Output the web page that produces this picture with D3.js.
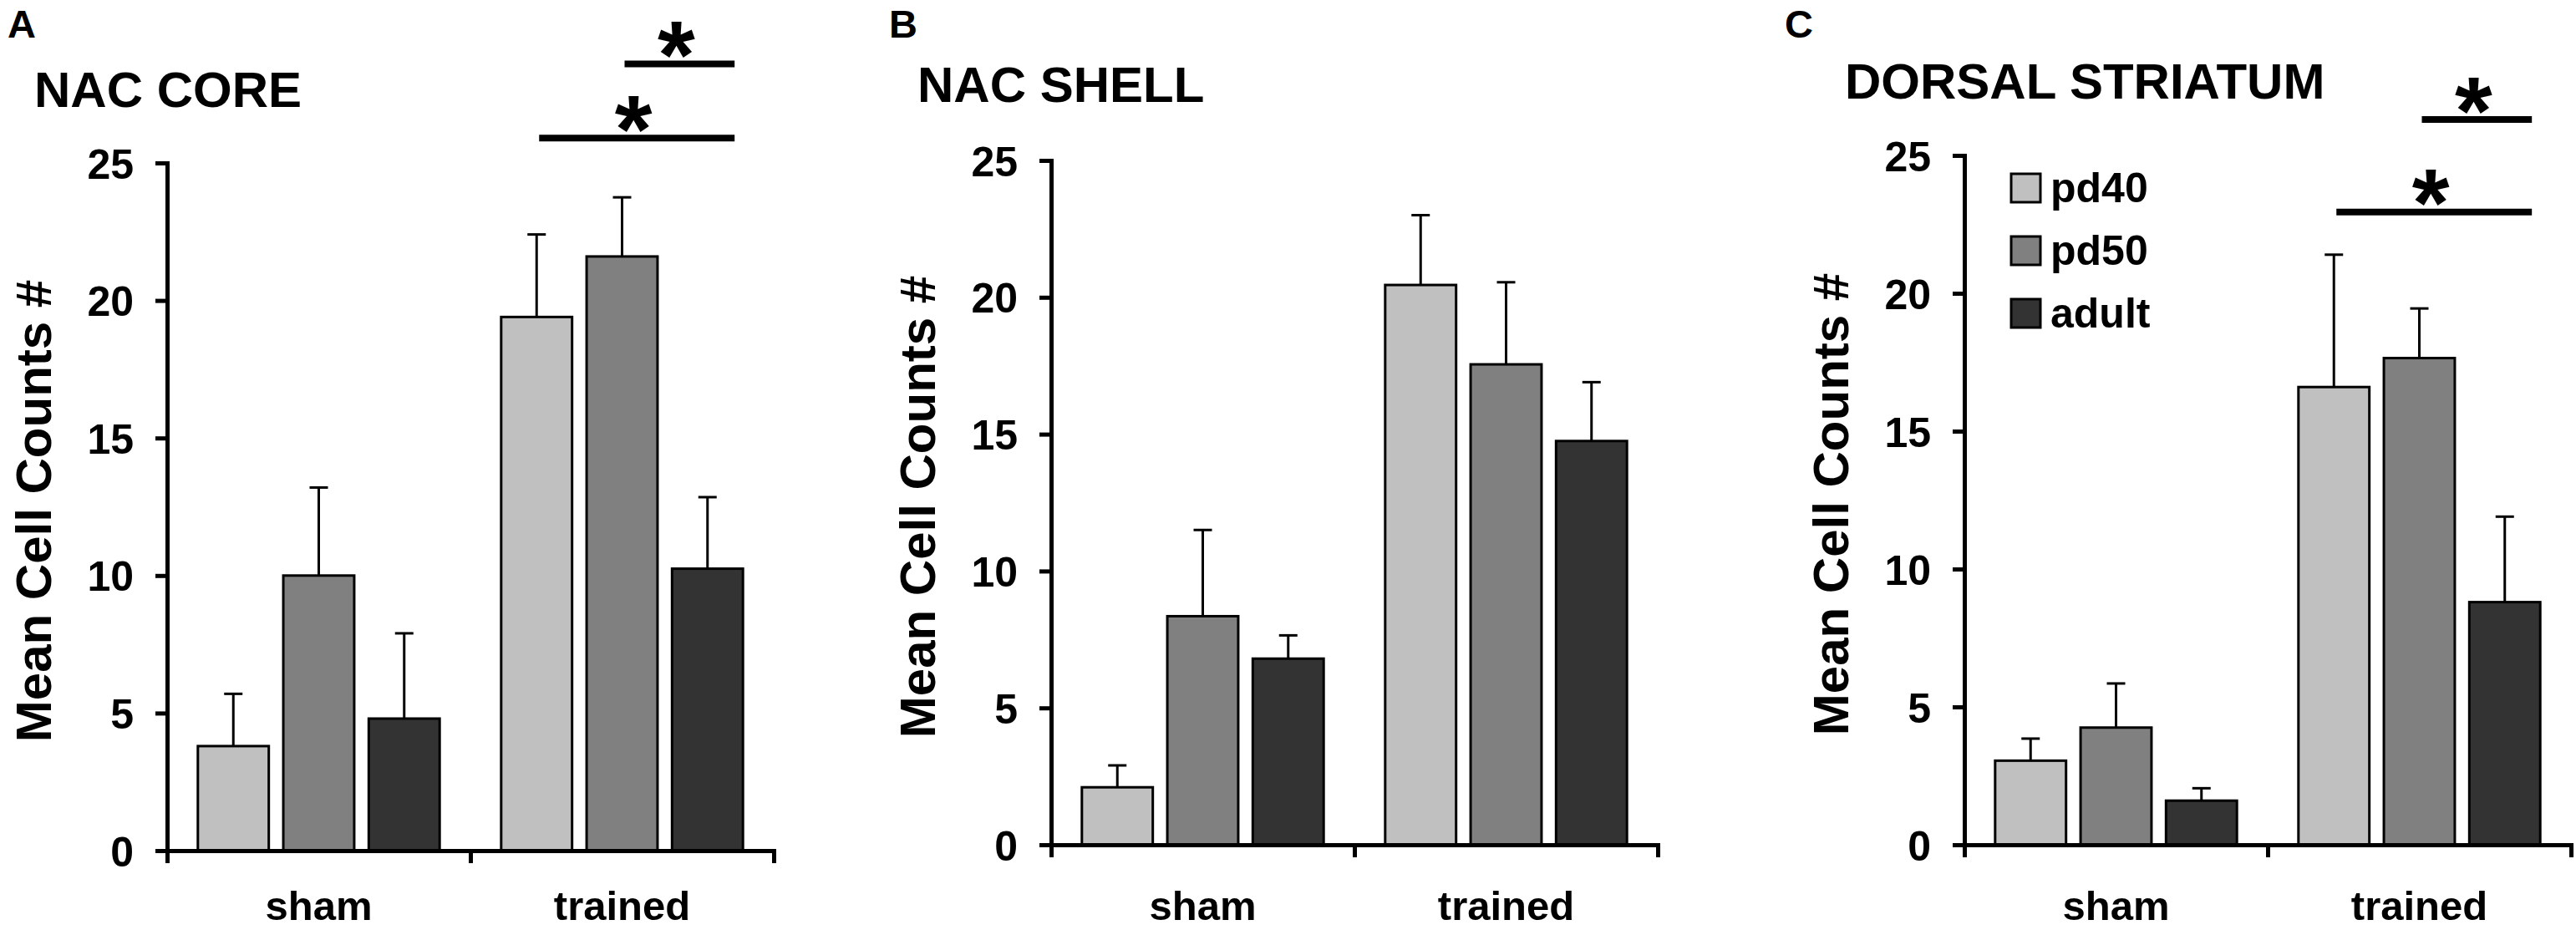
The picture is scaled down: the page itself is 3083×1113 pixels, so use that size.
<!DOCTYPE html>
<html>
<head>
<meta charset="utf-8">
<script src="https://cdn.jsdelivr.net/npm/d3@7"></script>
<style>
  body { margin: 0; background: #fff; }
  svg { display: block; font-family: "Liberation Sans", Arial, sans-serif; font-weight: bold; }
</style>
</head>
<body>
<div id="chart"></div>
<script>
// categories
const groups = ['sham', 'trained'];
const ages = ['pd40', 'pd50', 'adult'];
const yTicks = [0, 5, 10, 15, 20, 25];

// mean cell counts, order: sham pd40, pd50, adult, trained pd40, pd50, adult
const coreMean = [3.8, 10.0, 4.8, 19.4, 21.6, 10.25];
const coreSem = [1.9, 3.2, 3.1, 3.0, 2.15, 2.6];
const shellMean = [2.1, 8.35, 6.8, 20.45, 17.55, 14.75];
const shellSem = [0.8, 3.15, 0.85, 2.55, 3.0, 2.15];
const dorsalMean = [3.05, 4.25, 1.6, 16.6, 17.65, 8.8];
const dorsalSem = [0.8, 1.6, 0.45, 4.8, 1.8, 3.1];

// significance brackets (level in count units)
const coreSig = [
  { group: 'trained', from: 'pd40', to: 'adult', level: 25.9 },
  { group: 'trained', from: 'pd50', to: 'adult', level: 28.6 },
];
const dorsalSig = [
  { group: 'trained', from: 'pd40', to: 'adult', level: 22.95 },
  { group: 'trained', from: 'pd50', to: 'adult', level: 26.3 },
];

const fills = { pd40: '#c0c0c0', pd50: '#808080', adult: '#333333' };

const W = 3083, H = 1113;

// layout of each panel
const panels = [
  { letter: 'A', letterX: 9, title: 'NAC CORE', titleX: 41, titleY: 128,
    x0: 200, yTop: 195, yZero: 1018, mean: coreMean, sem: coreSem, sig: coreSig },
  { letter: 'B', letterX: 1064, title: 'NAC SHELL', titleX: 1098, titleY: 122,
    x0: 1258, yTop: 192, yZero: 1011, mean: shellMean, sem: shellSem, sig: [] },
  { letter: 'C', letterX: 2136, title: 'DORSAL STRIATUM', titleX: 2208, titleY: 118,
    x0: 2351, yTop: 186, yZero: 1011, mean: dorsalMean, sem: dorsalSem, sig: dorsalSig,
    legend: true },
];

const AXIS_W = 726;

const svg = d3.select('#chart')
  .append('svg')
  .attr('width', W)
  .attr('height', H);

panels.forEach((p) => {
  const g = svg.append('g');

  const y = d3.scaleLinear().domain([0, 25]).range([p.yZero, p.yTop]);
  const xGroup = d3.scaleBand().domain(groups).range([p.x0, p.x0 + AXIS_W]);
  const xAge = d3.scaleBand().domain(ages)
    .range([0, xGroup.bandwidth()])
    .paddingInner(0.17)
    .paddingOuter(0.36);
  const xEdge = d3.scaleLinear().domain([0, groups.length]).range([p.x0, p.x0 + AXIS_W]);

  // panel letter and title
  g.append('text').attr('x', p.letterX).attr('y', 45)
    .attr('font-size', 47).text(p.letter);
  g.append('text').attr('x', p.titleX).attr('y', p.titleY)
    .attr('font-size', 60).text(p.title);

  // bars
  const rows = [];
  groups.forEach((grp, gi) => {
    ages.forEach((age, ai) => {
      const i = gi * ages.length + ai;
      rows.push({ grp, age, mean: p.mean[i], sem: p.sem[i] });
    });
  });

  const bx = (d) => xGroup(d.grp) + xAge(d.age);
  const bw = xAge.bandwidth();

  // error bars (drawn first so bar outline covers the join)
  g.selectAll('.err').data(rows).enter().append('line')
    .attr('x1', (d) => bx(d) + bw / 2)
    .attr('x2', (d) => bx(d) + bw / 2)
    .attr('y1', (d) => y(d.mean))
    .attr('y2', (d) => y(d.mean + d.sem))
    .attr('stroke', '#000').attr('stroke-width', 3);
  g.selectAll('.cap').data(rows).enter().append('line')
    .attr('x1', (d) => bx(d) + bw / 2 - 11)
    .attr('x2', (d) => bx(d) + bw / 2 + 11)
    .attr('y1', (d) => y(d.mean + d.sem))
    .attr('y2', (d) => y(d.mean + d.sem))
    .attr('stroke', '#000').attr('stroke-width', 3);

  g.selectAll('.bar').data(rows).enter().append('rect')
    .attr('x', bx)
    .attr('y', (d) => y(d.mean))
    .attr('width', bw)
    .attr('height', (d) => y(0) - y(d.mean))
    .attr('fill', (d) => fills[d.age])
    .attr('stroke', '#000')
    .attr('stroke-width', 3);

  // y axis
  const yAxis = g.append('g')
    .attr('transform', 'translate(' + p.x0 + ',0)')
    .call(d3.axisLeft(y).tickValues(yTicks).tickSize(14).tickSizeOuter(0).tickPadding(26));
  yAxis.select('.domain').attr('stroke-width', 5).attr('stroke-linecap', 'square');
  yAxis.selectAll('.tick line').attr('stroke-width', 5);
  yAxis.selectAll('.tick text').attr('font-size', 50).attr('font-family', null).attr('dy', '0.36em');

  // x axis with ticks at category boundaries
  const xAxis = g.append('g')
    .attr('transform', 'translate(0,' + p.yZero + ')')
    .call(d3.axisBottom(xEdge).tickValues(d3.range(groups.length + 1)).tickSize(15)
      .tickSizeOuter(0).tickFormat(''));
  xAxis.select('.domain').attr('stroke-width', 5).attr('stroke-linecap', 'square');
  xAxis.selectAll('.tick line').attr('stroke-width', 5);

  // category labels
  g.selectAll('.cat').data(groups).enter().append('text')
    .attr('x', (d) => xGroup(d) + xGroup.bandwidth() / 2)
    .attr('y', 1101)
    .attr('text-anchor', 'middle')
    .attr('font-size', 49)
    .text((d) => d);

  // y axis title
  const midY = (p.yTop + p.yZero) / 2 + 5;
  g.append('text')
    .attr('transform', 'translate(' + (p.x0 - 139) + ',' + midY + ') rotate(-90)')
    .attr('text-anchor', 'middle')
    .attr('font-size', 60)
    .text('Mean Cell Counts #');

  // significance brackets
  p.sig.forEach((s) => {
    const x1 = xGroup(s.group) + xAge(s.from) + bw / 2 + 3;
    const x2 = xGroup(s.group) + xAge(s.to) + bw - 10;
    const ly = y(s.level);
    g.append('line')
      .attr('x1', x1).attr('x2', x2).attr('y1', ly).attr('y2', ly)
      .attr('stroke', '#000').attr('stroke-width', 8);
    const fs = 115;
    g.append('text')
      .attr('x', (x1 + x2) / 2 - 4)
      .attr('y', ly - 36 + 0.56 * fs)
      .attr('text-anchor', 'middle')
      .attr('font-size', fs)
      .text('*');
  });

  // legend
  if (p.legend) {
    const lg = g.append('g');
    const items = lg.selectAll('g').data(ages).enter().append('g')
      .attr('transform', (d, i) => 'translate(2407,' + (208 + i * 75) + ')');
    items.append('rect')
      .attr('width', 35).attr('height', 34)
      .attr('fill', (d) => fills[d])
      .attr('stroke', '#000').attr('stroke-width', 3);
    items.append('text')
      .attr('x', 47).attr('y', 34)
      .attr('font-size', 50)
      .text((d) => d);
  }
});
</script>
</body>
</html>
